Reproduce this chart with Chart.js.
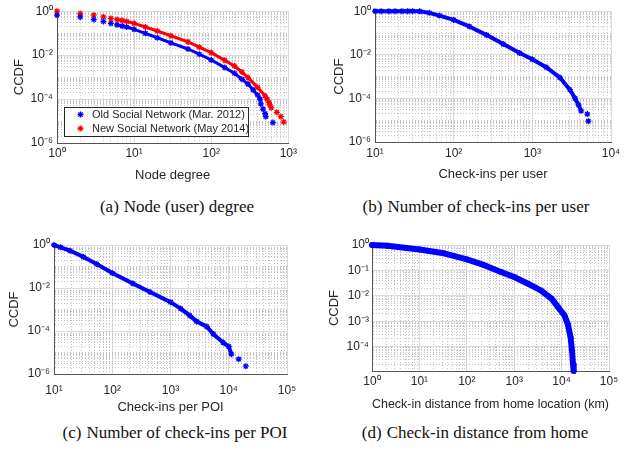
<!DOCTYPE html>
<html>
<head>
<meta charset="utf-8">
<script src="https://cdn.jsdelivr.net/npm/chart.js@4.4.1/dist/chart.umd.min.js"></script>
<style>
body { margin: 0; width: 629px; height: 450px; background: #fff; position: relative; overflow: hidden; }
canvas { position: absolute; }
.cap { position: absolute; font-family: "Liberation Serif", "Times New Roman", serif; font-size: 17px; color: #111;
       white-space: nowrap; transform: translate(-50%, -50%); }
.cap b { font-weight: normal; margin-right: 5px; }
</style>
</head>
<body>
<canvas id="degChart" width="300" height="195" style="left:0;top:0"></canvas>
<canvas id="userChart" width="319" height="195" style="left:310px;top:0"></canvas>
<canvas id="poiChart" width="310" height="195" style="left:0;top:225px"></canvas>
<canvas id="distChart" width="319" height="195" style="left:310px;top:225px"></canvas>
<div class="cap" style="left:177px;top:207px"><b>(a)</b>Node (user) degree</div>
<div class="cap" style="left:476px;top:207px"><b>(b)</b>Number of check-ins per user</div>
<div class="cap" style="left:175px;top:433px"><b>(c)</b>Number of check-ins per POI</div>
<div class="cap" style="left:475px;top:433px"><b>(d)</b>Check-in distance from home</div>
<script>
// (a) node degree CCDF, old vs new network
var degOldHeadX = [1, 2, 3, 4, 5]
var degOldHeadY = [0.66, 0.55, 0.42, 0.34, 0.28]
var degOldX = [6, 7, 8, 10, 14, 20, 30, 50, 70, 100, 150, 200, 250, 300, 350, 400, 430]
var degOldY = [0.24, 0.21, 0.19, 0.15, 0.098, 0.062, 0.036, 0.019, 0.011, 0.006, 0.0027, 0.0015, 0.0008, 0.00048, 0.00026, 0.00015, 0.0001]
var degOldTailX = [440, 470, 500, 510, 630]
var degOldTailY = [6e-5, 3.5e-5, 2.2e-5, 1.6e-5, 8.5e-6]

var degNewHeadX = [1, 2, 3, 4, 5]
var degNewHeadY = [1.0, 0.78, 0.66, 0.55, 0.47]
var degNewX = [6, 7, 8, 10, 14, 20, 30, 50, 70, 100, 150, 200, 250, 300, 400, 500, 530]
var degNewY = [0.42, 0.38, 0.34, 0.28, 0.19, 0.125, 0.076, 0.04, 0.023, 0.013, 0.0058, 0.0032, 0.0017, 0.00095, 0.00034, 0.00014, 0.0001]
var degNewTailX = [560, 575, 600, 710, 800, 870]
var degNewTailY = [7e-5, 5.4e-5, 4e-5, 2.5e-5, 1.6e-5, 9e-6]

var legendLabels = ['Old Social Network (Mar. 2012)', 'New Social Network (May 2014)']

// (b) check-ins per user
var userX = [10, 12, 15, 18, 22, 26, 30, 37, 49, 66, 100, 158, 263, 426, 690, 1000, 1500, 2240, 3000, 3500, 3870, 4170]
var userY = [1, 1, 1, 1, 1, 1, 1, 0.99, 0.84, 0.63, 0.4, 0.2, 0.08, 0.031, 0.012, 0.0062, 0.0027, 0.0009, 0.00025, 0.0001, 0.00005, 0.000027]
var userTailX = [5000, 5150]
var userTailY = [1.9e-5, 9e-6]

// (c) check-ins per POI
var poiX = [10, 13, 19, 32, 54, 100, 228, 444, 1000, 1500, 2140, 2800, 4200, 5400, 8000, 10000, 11100]
var poiY = [1, 0.78, 0.54, 0.28, 0.13, 0.05, 0.016, 0.0065, 0.0022, 0.0011, 0.00052, 0.00028, 0.00016, 0.000073, 0.000029, 0.000019, 0.0000084]
var poiTailX = [14800, 19600]
var poiTailY = [4.9e-6, 2.3e-6]

// (d) check-in distance from home (km)
var distX = [1, 2.1, 10, 33, 100, 235, 525, 1000, 1950, 3700, 6200, 8500, 11500, 13500, 15500, 16600, 17400, 18000]
var distY = [1, 0.94, 0.67, 0.47, 0.27, 0.16, 0.087, 0.055, 0.03, 0.016, 0.0076, 0.0035, 0.0017, 0.00077, 0.00023, 0.000067, 0.00002, 0.000011]

var BLUE = '#0000ff'
var RED = '#ff0000'
var TXT = '#262626'
Chart.defaults.font.family = '"Liberation Sans", Arial, Helvetica, sans-serif'

var SUP = {'0':'\u2070','1':'\u00b9','2':'\u00b2','3':'\u00b3','4':'\u2074','5':'\u2075','6':'\u2076','7':'\u2077','8':'\u2078','9':'\u2079','-':'\u207b'}

// labelled decade? step = decades between labels
function isMajor(v, step) {
    var l = Math.log10(v)
    var e = Math.round(l)
    return Math.abs(l - e) < 1e-6 && e % step === 0
}

function powLabel(v, step) {
    if (!isMajor(v, step)) return ''
    var e = String(Math.round(Math.log10(v)))
    return '10' + e.split('').map(function(c) { return SUP[c] }).join('')
}

// matlab style log ticks: 1..9 x 10^k inside [min, max]
function logTicks(min, max) {
    var out = []
    for (var e = Math.floor(Math.log10(min)); e <= Math.ceil(Math.log10(max)); e++) {
        for (var m = 1; m < 10; m++) {
            var v = m * Math.pow(10, e)
            if (v >= min * 0.999 && v <= max * 1.001) out.push({value: v})
        }
    }
    return out
}

function logAxis(pos, min, max, step, title, size, tickPad, titlePad) {
    var horiz = pos === 'bottom'
    return {
        type: 'logarithmic',
        position: pos,
        min: min,
        max: max,
        afterBuildTicks: function(s) { s.ticks = logTicks(min, max) },
        afterFit: function(s) { if (horiz) s.height = size; else s.width = size },
        ticks: {
            autoSkip: false, maxRotation: 0, minRotation: 0,
            padding: tickPad, color: TXT, font: {size: 12},
            callback: function(v) { return powLabel(v, step) }
        },
        grid: {
            drawTicks: false, lineWidth: 1,
            color: function(ctx) { return ctx.tick && isMajor(ctx.tick.value, step) ? '#dadada' : '#c4c4c4' }
        },
        border: {
            display: true, color: '#555', width: 1,
            dash: function(ctx) { return ctx.tick && !isMajor(ctx.tick.value, step) ? [1, 2] : [] }
        },
        title: {
            display: true, text: title, color: TXT, font: {size: 13},
            padding: horiz ? {top: 0, bottom: titlePad} : {top: titlePad, bottom: 0}
        }
    }
}

function pts(xs, ys) {
    return xs.map(function(x, i) { return {x: x, y: ys[i]} })
}

function series(xs, ys, color, line, width, radius) {
    return {
        data: pts(xs, ys),
        showLine: line,
        borderColor: color,
        backgroundColor: color,
        borderWidth: width,
        borderJoinStyle: 'round',
        borderCapStyle: 'round',
        tension: 0,
        pointStyle: 'star',
        pointRadius: radius,
        pointBorderWidth: 1.3,
        pointBorderColor: color,
        clip: false
    }
}

function drawStar(c, x, y, r) {
    c.beginPath()
    c.moveTo(x - r, y); c.lineTo(x + r, y)
    c.moveTo(x, y - r); c.lineTo(x, y + r)
    var d = r * 0.7071
    c.moveTo(x - d, y - d); c.lineTo(x + d, y + d)
    c.moveTo(x - d, y + d); c.lineTo(x + d, y - d)
    c.stroke()
}

// legend box inside panel (a)
var boxLegend = {
    id: 'boxLegend',
    afterDraw: function(chart) {
        var c = chart.ctx
        var colors = [BLUE, RED]
        c.save()
        c.fillStyle = '#fff'
        c.fillRect(64.5, 107.5, 184, 29)
        c.strokeStyle = '#262626'
        c.lineWidth = 1
        c.strokeRect(64.5, 107.5, 184, 29)
        c.font = '11px "Liberation Sans", Arial, sans-serif'
        c.textBaseline = 'middle'
        for (var i = 0; i < legendLabels.length; i++) {
            var y = 114.5 + i * 14
            c.strokeStyle = colors[i]
            c.lineWidth = 1.3
            drawStar(c, 80.5, y, 3)
            c.fillStyle = TXT
            c.fillText(legendLabels[i], 92, y + 0.5)
        }
        c.restore()
    }
}

function panel(id, datasets, pad, xAxis, yAxis, extra) {
    return new Chart(document.getElementById(id), {
        type: 'scatter',
        data: {datasets: datasets},
        options: {
            responsive: false,
            animation: false,
            devicePixelRatio: 1,
            layout: {padding: pad},
            plugins: {legend: {display: false}, tooltip: {enabled: false}},
            scales: {x: xAxis, y: yAxis}
        },
        plugins: extra || []
    })
}

panel('degChart', [
    series(degOldHeadX, degOldHeadY, BLUE, false, 0, 3),
    series(degOldX, degOldY, BLUE, true, 3, 3),
    series(degOldTailX, degOldTailY, BLUE, false, 0, 3),
    series(degNewHeadX, degNewHeadY, RED, false, 0, 3),
    series(degNewX, degNewY, RED, true, 3, 3),
    series(degNewTailX, degNewTailY, RED, false, 0, 3)
], {left: 0, top: 10, right: 10, bottom: 0},
    logAxis('bottom', 1, 1000, 1, 'Node degree', 52, 3, 12),
    logAxis('left', 1e-6, 1, 2, 'CCDF', 57, 4, 12),
    [boxLegend])

panel('userChart', [
    series(userX, userY, BLUE, true, 4, 3),
    series(userTailX, userTailY, BLUE, false, 0, 3)
], {left: 0, top: 11, right: 18, bottom: 0},
    logAxis('bottom', 10, 10000, 1, 'Check-ins per user', 53, 4, 13),
    logAxis('left', 1e-6, 1, 2, 'CCDF', 65, 4, 22))

panel('poiChart', [
    series(poiX, poiY, BLUE, true, 4, 3),
    series(poiTailX, poiTailY, BLUE, false, 0, 3)
], {left: 0, top: 20, right: 23, bottom: 0},
    logAxis('bottom', 10, 100000, 1, 'Check-ins per POI', 46, 9, 5),
    logAxis('left', 1e-6, 1, 2, 'CCDF', 54, 4, 7))

panel('distChart', [
    series(distX, distY, BLUE, true, 6, 3)
], {left: 0, top: 20, right: 20, bottom: 0},
    logAxis('bottom', 1, 100000, 1, 'Check-in distance from home location (km)', 49, 3, 8),
    logAxis('left', 1.1e-5, 1, 1, 'CCDF', 62, 3, 17))
</script>
</body>
</html>
